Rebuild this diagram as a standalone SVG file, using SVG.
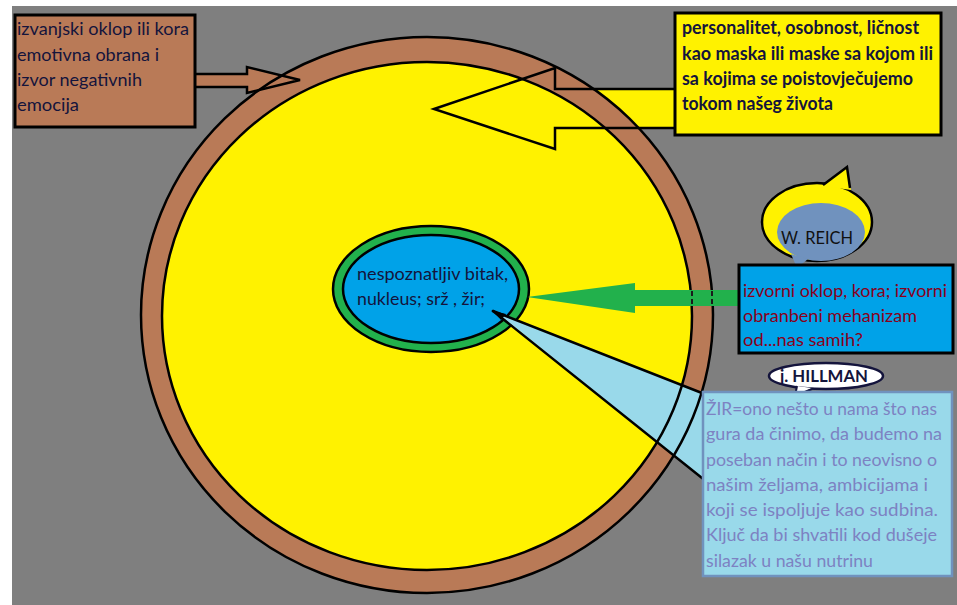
<svg xmlns="http://www.w3.org/2000/svg" width="957" height="605" viewBox="0 0 957 605">
<style>
.t{font-family:Lato,"Open Sans","Liberation Sans",sans-serif;font-size:18px;}
.b{font-weight:bold;}
.navy{fill:#14143c;}
.red{fill:#88001b;}
.lav{fill:#7d82c2;}
.ol{stroke:#000;stroke-width:2.5;}
</style>
<rect x="0" y="0" width="957" height="605" fill="#ffffff"/>
<rect x="12" y="6" width="945" height="599" fill="#7f7f7f"/>

<g id="connectors-under">
  <polygon points="193,74 247,74 247,67 300,80 247,93 247,87 193,87" fill="#b97a57"/>
  <polygon points="434,109 555,68 555,89 676,89 676,128 555,128 555,149" fill="#fff200"/>
</g>

<g id="ring">
  <ellipse cx="427" cy="315" rx="286" ry="278" fill="#b97a57"/>
  <ellipse cx="427" cy="316" rx="265" ry="254" fill="#fff200"/>
</g>

<g id="nucleus">
  <ellipse cx="431" cy="289" rx="98" ry="63" fill="#22b14c" class="ol"/>
  <ellipse cx="431" cy="289" rx="88" ry="54" fill="#00a2e8" class="ol"/>
  <text class="t navy" x="357" y="280" textLength="151" lengthAdjust="spacingAndGlyphs">nespoznatljiv bitak,</text>
  <text class="t navy" x="357" y="305" textLength="128" lengthAdjust="spacingAndGlyphs">nukleus; srž , žir;</text>
</g>

<g id="wedge-fill">
  <polygon points="497,313 707,395 707,482" fill="#99d9ea"/>
</g>

<g id="ring-lines" fill="none" stroke="#000" stroke-width="2.5">
  <ellipse cx="427" cy="315" rx="286" ry="278"/>
  <ellipse cx="427" cy="316" rx="265" ry="254"/>
</g>

<g id="connectors">
  <polygon points="527,297 635,283 635,290 741,290 741,306 635,306 635,313" fill="#22b14c"/>
  <g stroke="#1a1a1a" stroke-width="2" stroke-dasharray="5 3">
    <line x1="692" y1="291" x2="692" y2="306"/>
    <line x1="712" y1="291" x2="712" y2="306"/>
  </g>
  <polygon points="193,74 247,74 247,67 300,80 247,93 247,87 193,87" fill="none" stroke="#000" stroke-width="2.5"/>
  <polygon points="434,109 555,68 555,89 676,89 676,128 555,128 555,149" fill="none" stroke="#000" stroke-width="2.5"/>
  <g stroke="#000" stroke-width="2.5" stroke-linecap="round">
    <line x1="493" y1="311" x2="707" y2="395"/>
    <line x1="493" y1="311" x2="707" y2="482"/>
  </g>
  <polygon points="493,311 506,314 501,320" fill="#000"/>
</g>

<g id="box-outer">
  <rect x="15" y="15" width="180" height="112" fill="#b97a57" stroke="#000" stroke-width="3"/>
  <text class="t navy" x="17" y="35" textLength="172" lengthAdjust="spacingAndGlyphs">izvanjski oklop ili kora</text>
  <text class="t navy" x="17" y="61" textLength="142" lengthAdjust="spacingAndGlyphs">emotivna obrana i</text>
  <text class="t navy" x="17" y="86" textLength="125" lengthAdjust="spacingAndGlyphs">izvor negativnih</text>
  <text class="t navy" x="17" y="111" textLength="62" lengthAdjust="spacingAndGlyphs">emocija</text>
</g>

<g id="box-personality">
  <rect x="675" y="13" width="266" height="122" fill="#fff200" stroke="#000" stroke-width="3"/>
  <text class="t b navy" x="682" y="34" textLength="237" lengthAdjust="spacingAndGlyphs">personalitet, osobnost, ličnost</text>
  <text class="t b navy" x="682" y="60" textLength="251" lengthAdjust="spacingAndGlyphs">kao maska ili maske sa kojom ili</text>
  <text class="t b navy" x="682" y="85" textLength="231" lengthAdjust="spacingAndGlyphs">sa kojima se poistovječujemo</text>
  <text class="t b navy" x="682" y="110" textLength="151" lengthAdjust="spacingAndGlyphs">tokom našeg života</text>
</g>

<g id="bubble-reich">
  <ellipse cx="817" cy="222" rx="55" ry="39" fill="#fff200" stroke="#000" stroke-width="2.5"/>
  <polygon points="823,186 847,167 851,190" fill="#fff200"/>
  <polyline points="823,185 847,167 850,188" fill="none" stroke="#000" stroke-width="2.5"/>
  <ellipse cx="821" cy="232" rx="44" ry="29" fill="#7092be"/>
  <polygon points="791,254 797,268 808,259" fill="#7092be"/>
  <text class="t" x="781" y="244" fill="#111" textLength="72" lengthAdjust="spacingAndGlyphs">W. REICH</text>
</g>

<g id="box-reich">
  <rect x="739" y="265" width="214" height="88" fill="#00a2e8" stroke="#000" stroke-width="3"/>
  <text class="t red" x="743" y="297" textLength="204" lengthAdjust="spacingAndGlyphs">izvorni oklop, kora; izvorni</text>
  <text class="t red" x="743" y="322" textLength="174" lengthAdjust="spacingAndGlyphs">obranbeni mehanizam</text>
  <text class="t red" x="743" y="346" textLength="120" lengthAdjust="spacingAndGlyphs">od...nas samih?</text>
</g>

<g id="bubble-hillman">
  <ellipse cx="826" cy="376" rx="57" ry="13" fill="#ffffff" stroke="#14143c" stroke-width="2.5"/>
  <polygon points="797,386 795,396 812,388" fill="#ffffff"/>
  <polyline points="797,386 795,396 812,389" fill="none" stroke="#14143c" stroke-width="2"/>
  <text class="t b navy" x="780" y="382" style="font-size:17px" textLength="88" lengthAdjust="spacingAndGlyphs">j. HILLMAN</text>
</g>

<g id="box-hillman">
  <rect x="703" y="392" width="249" height="184" fill="#99d9ea" stroke="#7092be" stroke-width="2.5"/>
  <text class="t lav" x="706" y="415" textLength="231" lengthAdjust="spacingAndGlyphs">ŽIR=ono nešto u nama što nas</text>
  <text class="t lav" x="706" y="440" textLength="236" lengthAdjust="spacingAndGlyphs">gura da činimo, da budemo na</text>
  <text class="t lav" x="706" y="466" textLength="231" lengthAdjust="spacingAndGlyphs">poseban način i to neovisno o</text>
  <text class="t lav" x="706" y="491" textLength="222" lengthAdjust="spacingAndGlyphs">našim željama, ambicijama i</text>
  <text class="t lav" x="706" y="516" textLength="232" lengthAdjust="spacingAndGlyphs">koji se ispoljuje kao sudbina.</text>
  <text class="t lav" x="706" y="541" textLength="231" lengthAdjust="spacingAndGlyphs">Ključ da bi shvatili kod dušeje</text>
  <text class="t lav" x="706" y="567" textLength="167" lengthAdjust="spacingAndGlyphs">silazak u našu nutrinu</text>
</g>
</svg>
